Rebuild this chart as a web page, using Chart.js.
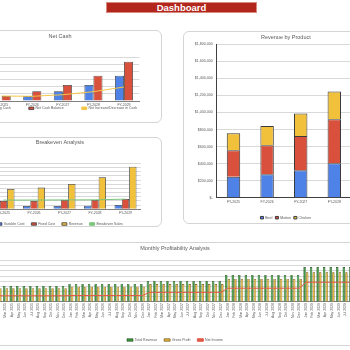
<!DOCTYPE html>
<html><head><meta charset="utf-8">
<title>Dashboard</title>
<script src="https://cdn.jsdelivr.net/npm/chart.js@4.4.1/dist/chart.umd.min.js"></script>
<style>
html,body{margin:0;padding:0;width:350px;height:350px;overflow:hidden;background:#fff;}
body{position:relative;font-family:"Liberation Sans",Arial,sans-serif;}
.panel{position:absolute;box-sizing:border-box;border:1px solid #d4d4d4;border-radius:6px;background:#fff;}
canvas{position:absolute;}
#hdr{position:absolute;left:106px;top:2px;width:151px;height:11px;box-sizing:border-box;background:#b2261c;border:1px solid #d98a80;color:#fff;font-weight:bold;font-size:9.5px;line-height:9px;text-align:center;}
</style></head><body>
<div id="hdr">Dashboard</div>
<div class="panel" style="left:-42px;top:30px;width:204px;height:93px"></div>
<div class="panel" style="left:-42px;top:137px;width:204px;height:90px"></div>
<div class="panel" style="left:183px;top:31px;width:210px;height:193px"></div>
<div class="panel" style="left:-40px;top:242px;width:432px;height:104px"></div>
<canvas id="cNet" width="244" height="110" style="left:-62px;top:30px;width:244px;height:110px"></canvas>
<canvas id="cBe" width="184" height="100" style="left:-21px;top:137px;width:184px;height:100px"></canvas>
<canvas id="cRev" width="203" height="190" style="left:187px;top:31px;width:203px;height:190px"></canvas>
<canvas id="cMon" width="421" height="110" style="left:-31px;top:242px;width:421px;height:110px"></canvas>
<script>
// ---------- data ----------
const fyLabels = ['FY-2025','FY-2026','FY-2027','FY-2028','FY-2029'];

const startingCash     = [0, 68000, 132000, 218000, 345000];
const netCashBalance   = [68000, 132000, 218000, 345000, 536000];
const netIncreaseCash  = [68000, 64000, 86000, 127000, 191000];

const variableCost   = [115000, 120000, 120000, 125000, 155000];
const fixedCost      = [298000, 298000, 334000, 334000, 370000];
const beRevenue      = [729000, 779000, 908000, 1149000, 1529000];
const breakevenSales = [330000, 332000, 336000, 340000, 365000];

const beef    = [247000, 275000, 322000, 404000, 520000];
const mutton  = [310000, 341000, 403000, 518000, 660000];
const chicken = [200000, 224000, 263000, 325000, 430000];
const revTickLabels = ['$-','$200,000','$400,000','$600,000','$800,000','$1,000,000','$1,200,000','$1,400,000','$1,600,000','$1,800,000'];

const monthLabels = [
 'Jan 2025','Feb 2025','Mar 2025','Apr 2025','May 2025','Jun 2025','Jul 2025','Aug 2025','Sep 2025','Oct 2025','Nov 2025','Dec 2025',
 'Jan 2026','Feb 2026','Mar 2026','Apr 2026','May 2026','Jun 2026','Jul 2026','Aug 2026','Sep 2026','Oct 2026','Nov 2026','Dec 2026',
 'Jan 2027','Feb 2027','Mar 2027','Apr 2027','May 2027','Jun 2027','Jul 2027','Aug 2027','Sep 2027','Oct 2027','Nov 2027','Dec 2027',
 'Jan 2028','Feb 2028','Mar 2028','Apr 2028','May 2028','Jun 2028','Jul 2028','Aug 2028','Sep 2028','Oct 2028','Nov 2028','Dec 2028',
 'Jan 2029','Feb 2029','Mar 2029','Apr 2029','May 2029','Jun 2029','Jul 2029','Aug 2029','Sep 2029','Oct 2029','Nov 2029','Dec 2029'];
const totalRevenue = [
 62000,62000,62000,62000,62000,62000,62000,62000,62000,62000,62000,62000,
 69500,69500,69500,69500,69500,69500,69500,69500,69500,69500,69500,69500,
 81000,81000,81000,81000,81000,81000,81000,81000,81000,81000,81000,81000,
 104000,104000,104000,104000,104000,104000,104000,104000,104000,104000,104000,104000,
 134500,134500,134500,134500,134500,134500,134500,134500,134500,134500,134500,134500];
const grossProfit = [
 53000,53000,53000,53000,53000,53000,53000,53000,53000,53000,53000,53000,
 59000,59000,59000,59000,59000,59000,59000,59000,59000,59000,59000,59000,
 69000,69000,69000,69000,69000,69000,69000,69000,69000,69000,69000,69000,
 88500,88500,88500,88500,88500,88500,88500,88500,88500,88500,88500,88500,
 114000,114000,114000,114000,114000,114000,114000,114000,114000,114000,114000,114000];
const netIncome = [
 24000,24000,24000,24000,24000,24000,24000,24000,24000,24000,24000,24000,
 25000,25000,25000,25000,25000,25000,25000,25000,25000,25000,25000,25000,
 37000,37000,37000,37000,37000,37000,37000,37000,37000,37000,37000,37000,
 53000,53000,53000,53000,53000,53000,53000,53000,53000,53000,53000,53000,
 76000,76000,76000,76000,76000,76000,76000,76000,76000,76000,76000,76000];

// ---------- style ----------
Chart.defaults.font.family = "'Liberation Sans', Arial, sans-serif";
Chart.defaults.color = '#595959';
Chart.defaults.animation = false;
const GRID = '#d9d9d9', AXIS = '#808080', EDGE = '#3a3a3a';
const BLUE = '#4f82e6', RED = '#d9503d', YELLOW = '#f2c13c';

// move legend text centre to a chosen canvas y
const legendPlace = {
  id: 'legendPlace',
  afterLayout(chart, args, opts) {
    const l = chart.legend;
    if (!l || typeof opts.y !== 'number') return;
    const p = l.options.labels.padding;
    const h = l.height;
    l.top = opts.y - p - 1.75;
    l.bottom = l.top + h;
  }
};
const titleOpt = (text, pt, pb) => ({display:true, text, color:'#595959', font:{size:5.5, weight:'normal'}, padding:{top:pt, bottom:pb}});
const legendOpt = (pad, bw) => ({display:true, position:'bottom', labels:{color:'#595959', font:{size:3.5}, boxWidth:bw, boxHeight:2.5, padding:pad, sort:(a,b)=>a.datasetIndex-b.datasetIndex}});
const xTicks = (pad) => ({color:'#595959', font:{size:3.5}, padding:pad, autoSkip:false, minRotation:0, maxRotation:0});
const xGrid = {display:false, drawTicks:false};

// ---------- Net Cash ----------
new Chart(document.getElementById('cNet'), {
  type:'bar',
  data:{labels:fyLabels, datasets:[
    {label:'Starting Cash', data:startingCash, backgroundColor:BLUE, borderColor:EDGE, borderWidth:0.8, categoryPercentage:0.59, barPercentage:1, order:1},
    {label:'Net Cash Balance', data:netCashBalance, backgroundColor:RED, borderColor:EDGE, borderWidth:0.8, categoryPercentage:0.59, barPercentage:1, order:1},
    {type:'line', label:'Net Increase/Decrease in Cash', data:netIncreaseCash, borderColor:'#f3c548', backgroundColor:'#f3c548', borderWidth:1, pointRadius:0, tension:0, order:0}
  ]},
  options:{
    responsive:false, devicePixelRatio:1,
    layout:{padding:0},
    scales:{
      x:{grid:xGrid, border:{color:AXIS}, ticks:xTicks(2), afterFit:s=>{s.height=7.5;}},
      y:{min:0, max:600000, ticks:{stepSize:100000, display:false}, grid:{color:GRID, drawTicks:false}, border:{display:false}, afterFit:s=>{s.width=48.4;}},
      yR:{position:'right', display:true, ticks:{display:false}, grid:{display:false, drawTicks:false}, border:{display:false}, afterFit:s=>{s.width=42.7;}}
    },
    plugins:{title:titleOpt('Net Cash', 2.7, 17.7), legend:legendOpt(18, 5), legendPlace:{y:78.3}, tooltip:{enabled:false}}
  },
  plugins:[legendPlace]
});

// ---------- Breakeven ----------
new Chart(document.getElementById('cBe'), {
  type:'bar',
  data:{labels:fyLabels, datasets:[
    {label:'Variable Cost', data:variableCost, backgroundColor:BLUE, borderColor:EDGE, borderWidth:0.8, categoryPercentage:0.72, barPercentage:1, order:1},
    {label:'Fixed Cost', data:fixedCost, backgroundColor:RED, borderColor:EDGE, borderWidth:0.8, categoryPercentage:0.72, barPercentage:1, order:1},
    {label:'Revenue', data:beRevenue, backgroundColor:YELLOW, borderColor:EDGE, borderWidth:0.8, categoryPercentage:0.72, barPercentage:1, order:1},
    {type:'line', label:'Breakeven Sales', data:breakevenSales, borderColor:'#7cc47c', backgroundColor:'#7cc47c', borderWidth:1, pointRadius:0, tension:0, order:0}
  ]},
  options:{
    responsive:false, devicePixelRatio:1,
    layout:{padding:{left:0, right:22.25, top:0, bottom:0}},
    scales:{
      x:{grid:xGrid, border:{color:AXIS}, ticks:xTicks(1.5), afterFit:s=>{s.height=7.2;}},
      y:{min:0, max:1650000, ticks:{stepSize:150000, display:false}, grid:{color:GRID, drawTicks:false}, border:{display:false}, afterFit:s=>{s.width=9.25;}}
    },
    plugins:{title:titleOpt('Breakeven Analysis', 1.7, 18), legend:legendOpt(7, 5), legendPlace:{y:87}, tooltip:{enabled:false}}
  },
  plugins:[legendPlace]
});

// ---------- Revenue by Product ----------
new Chart(document.getElementById('cRev'), {
  type:'bar',
  data:{labels:fyLabels, datasets:[
    {label:'Beef', data:beef, backgroundColor:BLUE, borderColor:EDGE, borderWidth:1, categoryPercentage:0.4, barPercentage:1},
    {label:'Mutton', data:mutton, backgroundColor:RED, borderColor:EDGE, borderWidth:1, categoryPercentage:0.4, barPercentage:1},
    {label:'Chicken', data:chicken, backgroundColor:YELLOW, borderColor:EDGE, borderWidth:1, categoryPercentage:0.4, barPercentage:1}
  ]},
  options:{
    responsive:false, devicePixelRatio:1,
    layout:{padding:{left:0, right:5.3, top:0, bottom:0}},
    scales:{
      x:{stacked:true, grid:xGrid, border:{color:'#404040'}, ticks:xTicks(2), afterFit:s=>{s.height=6.8;}},
      y:{stacked:true, min:0, max:1800000, ticks:{stepSize:200000, color:'#595959', font:{size:3.6}, padding:4, callback:(v,i)=>revTickLabels[i]}, grid:{color:GRID, drawTicks:false}, border:{color:'#404040'}, afterFit:s=>{s.width=29.7;}}
    },
    plugins:{title:titleOpt('Revenue by Product', 2.7, 4), legend:legendOpt(3, 3), legendPlace:{y:186.7}, tooltip:{enabled:false}}
  },
  plugins:[legendPlace]
});

// ---------- Monthly Profitability ----------
new Chart(document.getElementById('cMon'), {
  type:'bar',
  data:{labels:monthLabels, datasets:[
    {label:'Total Revenue', data:totalRevenue, backgroundColor:'#3c963c', borderColor:'#1e4a1e', borderWidth:0.6, categoryPercentage:0.8, barPercentage:0.95, order:1},
    {label:'Gross Profit', data:grossProfit, backgroundColor:'#e3b43a', borderColor:'#5a4812', borderWidth:0.6, categoryPercentage:0.8, barPercentage:0.95, order:1},
    {type:'line', label:'Net Income', data:netIncome, borderColor:'#e05a47', backgroundColor:'#e05a47', borderWidth:1, pointRadius:0, tension:0, order:0}
  ]},
  options:{
    responsive:false, devicePixelRatio:1,
    layout:{padding:{left:0, right:9, top:0, bottom:0}},
    scales:{
      x:{grid:xGrid, border:{color:AXIS}, ticks:{color:'#595959', font:{size:3.5}, padding:1, autoSkip:false, minRotation:90, maxRotation:90}, afterFit:s=>{s.height=29.5;}},
      y:{min:0, max:160000, ticks:{stepSize:20000, display:false}, grid:{color:GRID, drawTicks:false}, border:{display:false}, afterFit:s=>{s.width=20.2;}}
    },
    plugins:{title:titleOpt('Monthly Profitability Analysis', 3, 8.8), legend:legendOpt(7, 6), legendPlace:{y:98}, tooltip:{enabled:false}}
  },
  plugins:[legendPlace]
});
</script>
</body></html>
